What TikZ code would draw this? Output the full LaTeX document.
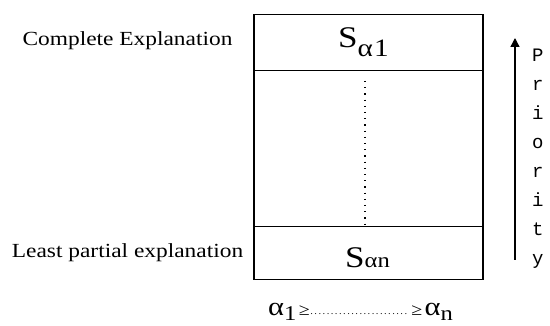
\documentclass[tikz,border=0pt]{standalone}
\usepackage{fontspec}
\setmainfont{Liberation Serif}
\newfontfamily\monofam{Liberation Mono}
\usetikzlibrary{arrows.meta}
\newcommand{\wide}[1]{\scalebox{1.17}[1]{#1}}
\newcommand{\leaderdots}{\leaders\hbox to 3.5pt{\hss.\hss}\hskip 84pt}
\begin{document}
\begin{tikzpicture}[x=1pt,y=-1pt,
  cell/.style={draw,line width=1.3pt,minimum width=229pt,inner sep=0pt,anchor=north},
  lbl/.style={font=\fontsize{20}{20}\selectfont,inner sep=0pt,anchor=base},
  letter/.style={font=\monofam\fontsize{19}{19}\selectfont,inner sep=0pt,anchor=base west}]
\useasboundingbox (0,0) rectangle (550,326);
\node[cell,minimum height=56pt] (top) at (368.5,14) {};
\node[cell,minimum height=156pt] (mid) at (368.5,70) {};
\node[cell,minimum height=53pt] (bot) at (368.5,226) {};
\node[inner sep=0pt,anchor=base west] (s1) at (338,48) {\wide{\fontsize{30}{30}\selectfont S\raisebox{-9pt}{\fontsize{25}{25}\selectfont α\kern1pt 1}}};
\node[inner sep=0pt,anchor=base west] (sn) at (345,268) {\wide{\fontsize{30}{30}\selectfont S{\fontsize{21}{21}\selectfont αn}}};
\coordinate (d1) at (365,81);
\coordinate (d2) at (365,224);
\draw[line width=1.3pt,dash pattern=on 1.3pt off 4.9pt] (d1) -- (d2);
\node[lbl] (ce) at (127.5,46) {\wide{Complete Explanation}};
\node[lbl] (lp) at (127.5,258) {\wide{Least partial explanation}};
\coordinate (a1) at (515,260);
\coordinate (a2) at (515,38);
\draw[line width=1.3pt,-{Triangle[length=9pt,width=9pt]}] (a1) -- (a2);
\foreach \ch [count=\i] in {P,r,i,o,r,i,t,y}
  \node[letter] (p\i) at (532,62+29*\i-29) {\ch};
\node[inner sep=0pt,anchor=base west] (ord) at (268,316) {\wide{\fontsize{26}{26}\selectfont α\raisebox{-5pt}{\fontsize{21}{21}\selectfont 1}\kern2pt{\fontsize{17}{17}\selectfont ≥\raisebox{1pt}{\fontsize{9}{9}\selectfont\leaderdots}\kern3pt≥}\kern2pt α\raisebox{-5pt}{\fontsize{21}{21}\selectfont n}}};
\end{tikzpicture}
\end{document}
